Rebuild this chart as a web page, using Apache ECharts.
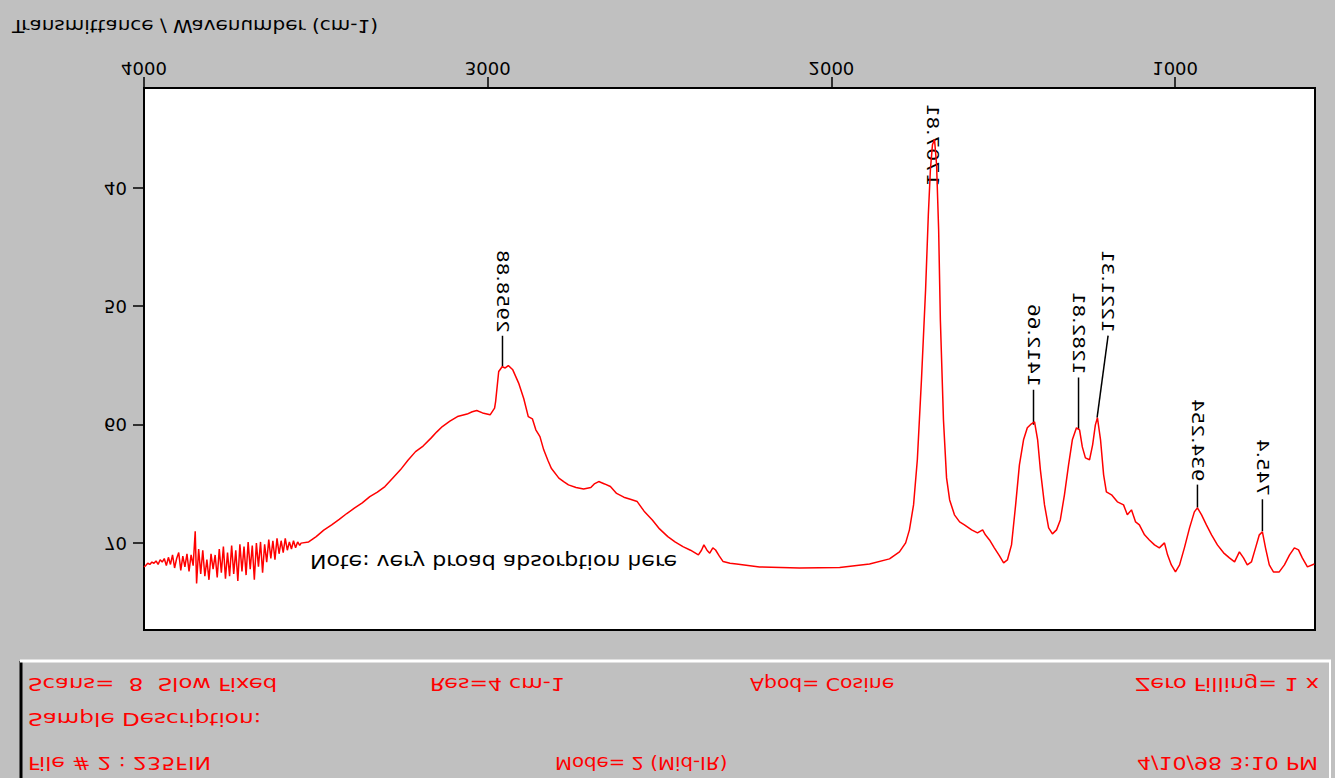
<!DOCTYPE html>
<html>
<head>
<meta charset="utf-8">
<script src="https://cdn.jsdelivr.net/npm/echarts@6/dist/echarts.min.js"></script>
<style>
html,body{margin:0;padding:0;background:#c0c0c0;overflow:hidden;}
#chart{width:1335px;height:778px;transform:scaleY(-1);transform-origin:50% 50%;}
</style>
</head>
<body>
<div id="chart"></div>
<script>
// ---- Data (wavenumber cm-1 / % transmittance) ----
const wavenumbers = [
 4000,3995,3989,3983,3977,3971,3965,3959,3953,3947,3941,3935,3929,3923,3917,3911,3905,3899,3893,3887,
 3881,3875,3869,3863,3857,3851,3847,3841,3835,3829,3823,3817,3811,3805,3799,3793,3787,3781,3775,3769,
 3763,3757,3751,3745,3739,3733,3727,3721,3715,3709,3703,3697,3691,3685,3679,3673,3667,3661,3655,3649,
 3643,3637,3631,3625,3619,3613,3607,3601,3595,3589,3583,3577,3571,3565,3559,3553,3547,3543,
 3521,3499,3477,3454,3432,3410,3388,3365,3343,3321,3299,3276,3254,3232,3210,3188,3165,3148,3132,3110,
 3088,3060,3045,3032,3015,2993,2980,2977,2968,2958,2949,2940,2927,2910,2895,2882,2870,2860,2848,2837,
 2825,2815,2793,2779,2765,2743,2721,2700,2690,2677,2660,2643,2625,2604,2585,2565,2545,2521,2500,2476,
 2455,2432,2410,2387,2378,2371,2362,2354,2345,2337,2326,2315,2295,2276,
 2209,2093,1976,1889,1831,1802,1784,1773,1761,1750,1738,1726,1718,1712,1706,1700,1694,1688,1683,1674,
 1665,1656,1642,1627,1613,1592,1575,1560,1552,1540,1526,1511,1499,1488,1476,1464,1453,1441,1430,1418,
 1409,1400,1392,1380,1368,1357,1345,1334,1322,1310,1299,1287,1278,1270,1261,1249,1240,1232,1226,1217,
 1208,1200,1185,1168,1150,1139,1127,1115,1104,1089,1075,1060,1046,1031,1022,1011,999,987,973,958,
 944,935,923,909,894,877,859,842,827,813,801,790,778,766,755,746,737,726,714,697,
 682,667,653,641,630,615,595
];
const transmittance = [
 72.0,71.9,71.7,71.8,71.6,71.7,71.5,71.8,71.4,71.6,71.3,71.9,71.2,71.8,71.0,72.1,71.3,70.8,72.3,71.1,
 72.0,70.9,72.4,71.0,71.9,69.0,73.4,70.5,72.6,70.6,72.8,71.4,73.1,70.9,72.2,71.0,72.9,70.5,72.5,70.3,
 73.0,70.8,72.8,70.2,72.6,70.6,73.2,70.1,72.4,70.3,72.7,69.9,72.2,70.2,73.1,70.0,72.0,69.9,72.5,70.1,
 71.6,69.7,71.3,69.8,71.4,69.6,70.9,69.8,70.8,69.6,70.6,69.9,70.5,69.8,70.4,69.9,70.2,70.0,
 69.9,69.45,68.9,68.46,68.0,67.5,67.05,66.6,66.07,65.7,65.22,64.5,63.81,63.0,62.27,61.8,61.13,60.6,60.15,59.7,
 59.31,59.1,58.9,58.8,59.0,59.16,58.6,58.04,55.5,55.1,55.2,55.0,55.36,56.48,57.8,59.31,59.5,60.43,61.0,62.12,
 63.0,63.67,64.51,64.8,65.08,65.3,65.42,65.3,65.0,64.8,65.0,65.22,65.8,66.12,66.3,66.49,67.3,68.04,68.8,69.45,
 69.9,70.3,70.6,71.0,70.6,70.15,70.6,70.85,70.4,70.58,71.1,71.56,71.7,71.76,
 72.01,72.10,72.05,71.76,71.33,70.74,69.98,68.88,66.77,62.96,56.20,48.59,42.25,38.45,36.34,35.91,38.03,43.52,51.13,59.58,
 64.49,66.35,67.61,68.21,68.46,68.88,69.14,68.88,69.30,69.73,70.40,71.08,71.67,71.42,70.15,66.77,63.39,61.27,60.26,59.92,
 59.75,61.27,63.81,66.77,68.71,69.22,68.88,68.04,65.92,63.39,61.27,60.26,60.43,61.87,62.80,62.96,61.70,60.01,59.41,61.27,
 64.23,65.67,65.92,66.51,66.77,67.61,67.19,68.21,68.46,69.30,69.73,70.15,70.40,69.98,70.99,71.84,72.43,71.84,70.40,68.71,
 67.36,67.02,67.61,68.46,69.30,70.15,70.82,71.25,71.59,70.74,71.25,71.84,71.59,70.40,69.30,69.05,70.40,71.84,72.43,72.43,
 71.84,70.99,70.40,70.57,71.25,72.01,71.76
];

// ---- Axis ticks ----
const xTickValues = [4000, 3000, 2000, 1000];
const yTickValues = [40, 50, 60, 70];

// ---- Peak annotations ----
const peakWavenumbers = [2957, 1706, 1412, 1281, 1227, 935, 746];
const peakTransmittance = [55.1, 35.9, 60.0, 60.4, 59.4, 67.0, 69.0];
const peakLabels = ['2958.88', '1707.81', '1412.66', '1282.81', '1221.31', '934.254', '745.4'];
// leader layout in pixels: [dx, length]
const peakLeaderLayout = [[0, 31], [0, -50], [0, 35], [0, 52], [11, 82], [0, 23], [0, 32]];

// ---- Texts ----
const titleText = 'Transmittance / Wavenumber (cm-1)';
const noteText = 'Note: very broad absorption here';
const headerTexts = {
  file: 'File # 2 : 235FIN',
  mode: 'Mode= 2 (Mid-IR)',
  date: '4/10/98 3:10 PM',
  sample: 'Sample Description:',
  scans: 'Scans=  8  Slow Fixed',
  res: 'Res=4 cm-1',
  apod: 'Apod= Cosine',
  zero: 'Zero Filling= 1 x'
};

const spectrum = wavenumbers.map((w, i) => [w, transmittance[i]]);
const peaks = peakWavenumbers.map((w, i) => [w, peakTransmittance[i]]);

const FONT = 'DejaVu Sans';
function hText(x, y, text, size, sx, color) {
  return {
    type: 'text', x: x, y: y, scaleX: sx, silent: true,
    style: { text: text, fontFamily: FONT, fontSize: size, fill: color,
             textAlign: 'left', textVerticalAlign: 'middle' }
  };
}

const chart = echarts.init(document.getElementById('chart'), null, { renderer: 'svg' });
chart.setOption({
  animation: false,
  backgroundColor: '#c0c0c0',
  grid: {
    left: 144, right: 20, top: 148, bottom: 88,
    show: true, backgroundColor: '#ffffff', borderColor: '#000000', borderWidth: 2,
    outerBoundsMode: 'none'
  },
  xAxis: {
    type: 'value', min: 593, max: 4000, inverse: true, position: 'bottom',
    axisLine: { show: true, onZero: false, lineStyle: { color: '#000', width: 2 } },
    axisTick: { show: true, inside: false, length: 11, customValues: xTickValues,
                lineStyle: { color: '#000', width: 1.5 } },
    axisLabel: { show: true, customValues: xTickValues, color: '#000', fontFamily: FONT,
                 fontSize: 18, margin: 11, formatter: function (v) { return String(v); } },
    splitLine: { show: false }
  },
  yAxis: {
    type: 'value', min: 31.55, max: 77.34, position: 'left',
    axisLine: { show: true, onZero: false, lineStyle: { color: '#000', width: 2 } },
    axisTick: { show: true, inside: false, length: 11, customValues: yTickValues,
                lineStyle: { color: '#000', width: 1.5 } },
    axisLabel: { show: true, customValues: yTickValues, color: '#000', fontFamily: FONT,
                 fontSize: 18, margin: 17, formatter: function (v) { return String(v); } },
    splitLine: { show: false }
  },
  series: [
    {
      type: 'line', data: spectrum, symbol: 'none', clip: true,
      lineStyle: { color: '#ff0000', width: 1.5 }, silent: true
    },
    {
      type: 'custom', data: peaks, silent: true, clip: false,
      renderItem: function (params, api) {
        const i = params.dataIndex;
        const p = api.coord([api.value(0), api.value(1)]);
        const lay = peakLeaderLayout[i];
        const ex = p[0] + lay[0], ey = p[1] + lay[1];
        const children = [];
        if (lay[1] > 0) {
          children.push({ type: 'line', shape: { x1: p[0], y1: p[1], x2: ex, y2: ey },
                          style: { stroke: '#000', lineWidth: 1.5 } });
        }
        children.push({
          type: 'text', x: ex, y: ey + 3, rotation: -Math.PI / 2, scaleX: 1.25,
          style: { text: peakLabels[i], fontFamily: FONT, fontSize: 16, fill: '#000',
                   textAlign: 'left', textVerticalAlign: 'middle' }
        });
        return { type: 'group', children: children };
      }
    }
  ],
  graphic: [
    // header panel edges
    { type: 'line', silent: true, shape: { x1: 21, y1: 0, x2: 21, y2: 117 }, style: { stroke: '#000', lineWidth: 3 } },
    { type: 'line', silent: true, shape: { x1: 20, y1: 117, x2: 1331, y2: 117 }, style: { stroke: '#ffffff', lineWidth: 3 } },
    { type: 'line', silent: true, shape: { x1: 1330, y1: 0, x2: 1330, y2: 117 }, style: { stroke: '#ffffff', lineWidth: 2 } },
    // header texts
    hText(28, 15, headerTexts.file, 17, 1.3, '#ff0000'),
    hText(555, 15, headerTexts.mode, 17, 1.16, '#ff0000'),
    hText(1137, 15, headerTexts.date, 17, 1.3, '#ff0000'),
    hText(28, 59, headerTexts.sample, 17, 1.36, '#ff0000'),
    hText(28, 94, headerTexts.scans, 17, 1.34, '#ff0000'),
    hText(430, 94, headerTexts.res, 17, 1.3, '#ff0000'),
    hText(750, 94, headerTexts.apod, 17, 1.2, '#ff0000'),
    hText(1135, 94, headerTexts.zero, 17, 1.32, '#ff0000'),
    // axis title
    hText(12, 751, titleText, 18, 1.11, '#000'),
    // note inside plot
    hText(310, 217, noteText, 19, 1.16, '#000')
  ]
});
</script>
</body>
</html>
